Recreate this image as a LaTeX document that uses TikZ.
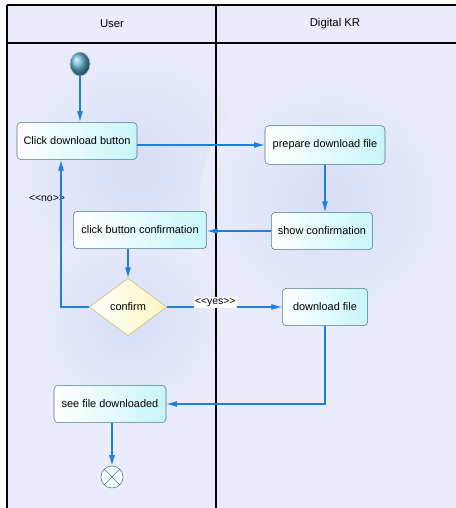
\documentclass[tikz,border=0pt]{standalone}
\usepackage{fontspec}
\setmainfont{Liberation Sans}[Ligatures=TeXOff]
\usetikzlibrary{shapes.geometric,arrows.meta}
\definecolor{lanebg}{RGB}{234,236,251}
\definecolor{laneglow}{RGB}{214,221,246}
\definecolor{flowblue}{RGB}{30,128,216}
\definecolor{boxline}{RGB}{70,120,135}
\definecolor{boxfill}{RGB}{200,245,248}
\definecolor{decfill}{RGB}{250,245,190}
\definecolor{decline}{RGB}{200,190,110}
\tikzset{
  activity/.style={draw=boxline, rounded corners=3pt, left color=white, right color=boxfill,
    minimum height=28pt, inner sep=2pt, font=\fontsize{8.2}{9.5}\selectfont},
  decision/.style={diamond, draw=decline, left color=white, right color=decfill, inner sep=0pt,
    minimum width=58pt, minimum height=43pt, font=\fontsize{8.2}{9.5}\selectfont},
  flow/.style={draw=flowblue, line width=0.8pt, -{Latex[length=8pt,width=4.5pt]}},
  guard/.style={font=\fontsize{7.8}{9}\selectfont, inner sep=1pt},
  lane/.style={line width=0.8pt}
}
\begin{document}
\begin{tikzpicture}[x=0.75pt, y=-0.75pt]
\useasboundingbox (0,0) rectangle (456,508);
\fill[white] (0,0) rectangle (456,508);
\fill[lanebg] (7,5) rectangle (456,508);
% soft glow behind the lanes
\begin{scope}
\clip (7,43) rectangle (456,508);
\shade[inner color=laneglow, outer color=lanebg] (135,170) circle (130);
\shade[inner color=laneglow, outer color=lanebg] (330,200) circle (130);
\shade[inner color=laneglow, outer color=lanebg] (130,320) circle (100);
\end{scope}
% swimlanes
\draw[lane] (7,5) -- (456,5);
\draw[lane] (7,43) -- (456,43);
\draw[lane] (7,5) -- (7,508);
\draw[lane] (216,5) -- (216,508);
\node[font=\fontsize{8.5}{10}\selectfont] (user) at (112,24) {User};
\node[font=\fontsize{8.5}{10}\selectfont] (kr) at (335,24) {Digital KR};

\node[ellipse, minimum width=15pt, minimum height=18pt, inner sep=0pt, draw=boxline!40,
  ball color={rgb,255:red,95;green,180;blue,210}] (start) at (80,64) {};
\node[activity, minimum width=90pt] (click) at (77,141) {Click download button};
\node[activity, minimum width=90pt, minimum height=29pt] (prepare) at (325,145) {prepare download file};
\node[activity, minimum width=76pt] (show) at (322,231) {show confirmation};
\node[activity, minimum width=100pt] (clickconf) at (140,230) {click button confirmation};
\node[decision] (confirm) at (128,307) {confirm};
\node[activity, minimum width=64pt] (download) at (325,307) {download file};
\node[activity, minimum width=84pt] (seefile) at (110,404) {see file downloaded};
\node[circle, draw=boxline, fill=white!85!boxfill, minimum size=16.5pt, inner sep=0pt,
  path picture={\draw[boxline] (path picture bounding box.north west) -- (path picture bounding box.south east)
    (path picture bounding box.north east) -- (path picture bounding box.south west);}] (final) at (112,477) {};

\coordinate (back) at (61,307);
\node[guard] (no) at (47,199) {<<no>>};

\draw[flow] (start) -- (start |- click.north);
\draw[flow] (click.east |- prepare) -- (prepare.west);
\draw[flow] (prepare.south) -- (prepare.south |- show.north);
\draw[flow] (show.west) -- (show.west -| clickconf.east);
\draw[flow] (confirm.north |- clickconf.south) -- (confirm.north);
\draw[flow] (confirm.west) -- (back) -- (back |- click.south);
\draw[flow] (confirm.east) -- node[guard, pos=0.42, fill=white, anchor=south, yshift=-1pt] (yes) {<<yes>>} (download.west);
\draw[flow] (download.south) |- (seefile.east);
\draw[flow] (final |- seefile.south) -- (final.north);
\end{tikzpicture}
\end{document}
